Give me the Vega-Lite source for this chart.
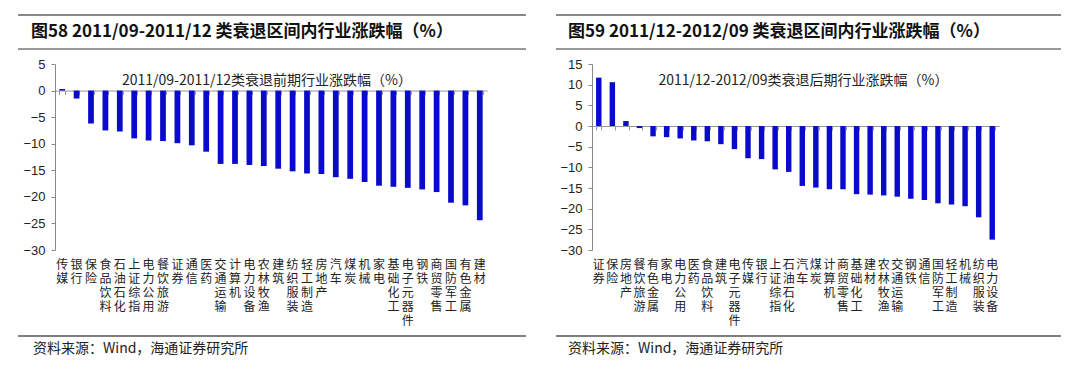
{
  "$schema": "https://vega.github.io/schema/vega-lite/v6.json",
  "background": "white",
  "padding": {"left": 17, "top": 14, "right": 0, "bottom": 0},
  "config": {"view": {"stroke": null}, "font": "Noto Sans CJK SC"},
  "datasets": {
    "left": [
      {"industry": "传媒", "change": 0.3},
      {"industry": "银行", "change": -1.5},
      {"industry": "保险", "change": -6.2},
      {"industry": "食品饮料", "change": -7.5},
      {"industry": "石油石化", "change": -7.7},
      {"industry": "上证综指", "change": -9.0},
      {"industry": "电力公用", "change": -9.4},
      {"industry": "餐饮旅游", "change": -9.5},
      {"industry": "证券", "change": -9.9},
      {"industry": "通信", "change": -10.3},
      {"industry": "医药", "change": -11.5},
      {"industry": "交通运输", "change": -13.8},
      {"industry": "计算机", "change": -13.8},
      {"industry": "电力设备", "change": -14.0},
      {"industry": "农林牧渔", "change": -14.2},
      {"industry": "建筑", "change": -14.7},
      {"industry": "纺织服装", "change": -15.2},
      {"industry": "轻工制造", "change": -15.6},
      {"industry": "房地产", "change": -15.7},
      {"industry": "汽车", "change": -16.3},
      {"industry": "煤炭", "change": -16.6},
      {"industry": "机械", "change": -17.2},
      {"industry": "家电", "change": -17.9},
      {"industry": "基础化工", "change": -18.1},
      {"industry": "电子元器件", "change": -18.3},
      {"industry": "钢铁", "change": -18.6},
      {"industry": "商贸零售", "change": -19.1},
      {"industry": "国防军工", "change": -21.1},
      {"industry": "有色金属", "change": -21.6},
      {"industry": "建材", "change": -24.4}
    ],
    "right": [
      {"industry": "证券", "change": 11.7},
      {"industry": "保险", "change": 10.6},
      {"industry": "房地产", "change": 1.2},
      {"industry": "餐饮旅游", "change": -0.5},
      {"industry": "有色金属", "change": -2.5},
      {"industry": "家电", "change": -2.7},
      {"industry": "电力公用", "change": -3.0},
      {"industry": "医药", "change": -3.5},
      {"industry": "食品饮料", "change": -3.7},
      {"industry": "建筑", "change": -4.4},
      {"industry": "电子元器件", "change": -5.6},
      {"industry": "传媒", "change": -7.8},
      {"industry": "银行", "change": -8.0},
      {"industry": "上证综指", "change": -10.5},
      {"industry": "石油石化", "change": -11.1},
      {"industry": "汽车", "change": -14.5},
      {"industry": "煤炭", "change": -14.9},
      {"industry": "计算机", "change": -15.3},
      {"industry": "商贸零售", "change": -15.3},
      {"industry": "基础化工", "change": -16.5},
      {"industry": "建材", "change": -16.6},
      {"industry": "农林牧渔", "change": -16.8},
      {"industry": "交通运输", "change": -17.1},
      {"industry": "钢铁", "change": -17.6},
      {"industry": "通信", "change": -17.9},
      {"industry": "国防军工", "change": -18.7},
      {"industry": "轻工制造", "change": -19.0},
      {"industry": "机械", "change": -19.4},
      {"industry": "纺织服装", "change": -22.1},
      {"industry": "电力设备", "change": -27.5}
    ]
  },
  "hconcat": [
    {
      "spacing": 8,
      "vconcat": [
        {
          "width": 508, "height": 34,
          "data": {"values": [{"title": "图58 2011/09-2011/12 类衰退区间内行业涨跌幅（%）"}]},
          "layer": [
            {"mark": {"type": "rule", "color": "#888888", "strokeWidth": 2}, "encoding": {"y": {"datum": 1, "type": "quantitative", "scale": {"domain": [0, 1]}, "axis": null}}},
            {"mark": {"type": "rule", "color": "#333333", "strokeWidth": 1.2}, "encoding": {"y": {"datum": 0, "type": "quantitative"}}},
            {"mark": {"type": "text", "align": "left", "baseline": "middle", "dx": 13, "fontSize": 17, "fontWeight": "bold", "font": "Noto Sans CJK SC", "color": "#111111"},
             "encoding": {"text": {"field": "title"}, "x": {"datum": 0, "type": "quantitative", "scale": {"domain": [0, 1]}, "axis": null}, "y": {"datum": 0.5, "type": "quantitative"}}}
          ]
        },
        {
          "width": 508, "height": 186,
          "data": {"name": "left"},
          "title": {"text": "2011/09-2011/12类衰退前期行业涨跌幅（%）", "frame": "group", "anchor": "middle", "orient": "top", "offset": -37, "baseline": "middle", "fontSize": 14, "fontWeight": "normal", "font": "Noto Sans CJK SC", "color": "#222222", "dx": -5},
          "encoding": {
            "y": {"field": "change", "type": "quantitative", "scale": {"domain": [-30, 5], "nice": false},
              "axis": {"values": [-30, -25, -20, -15, -10, -5, 0, 5], "labelOverlap": false, "offset": -37, "domainColor": "#888888", "tickColor": "#888888", "tickSize": 4, "labelFont": "Liberation Sans", "labelFontSize": 13, "labelColor": "#222222", "labelPadding": 6, "grid": false, "title": null}}
          },
          "layer": [
            {
              "mark": {"type": "bar", "color": "#0a0acc"},
              "encoding": {
                "x": {"field": "industry", "type": "nominal", "sort": null, "scale": {"range": [37, 469], "paddingInner": 0.6, "paddingOuter": 0.3},
                  "axis": {"orient": "bottom", "labelExpr": "split(datum.value, '')", "labelAngle": 0, "labelAlign": "center", "labelBaseline": "top", "labelLineHeight": 14, "labelFont": "Noto Sans CJK SC", "labelFontSize": 12, "labelColor": "#222222", "labelPadding": 9, "domain": false, "ticks": false, "title": null, "labelOverlap": false, "grid": false}}
              }
            },
            {
              "mark": {"type": "bar", "opacity": 0},
              "encoding": {
                "x": {"field": "industry", "type": "nominal", "sort": null,
                  "axis": {"orient": "bottom", "offset": -159.43, "labels": false, "domain": true, "domainColor": "#999999", "ticks": true, "tickColor": "#999999", "tickSize": 4, "tickBand": "extent", "title": null, "grid": false}}
              }
            }
          ],
          "resolve": {"axis": {"x": "independent"}}
        },
        {
          "width": 508, "height": 30,
          "data": {"values": [{"note": "资料来源：Wind，海通证券研究所"}]},
          "layer": [
            {"mark": {"type": "rule", "color": "#555555", "strokeWidth": 1.5}, "encoding": {"y": {"datum": 0.93, "type": "quantitative", "scale": {"domain": [0, 1]}, "axis": null}}},
            {"mark": {"type": "text", "align": "left", "baseline": "middle", "dx": 15, "fontSize": 14, "font": "Noto Sans CJK SC", "color": "#222222"},
             "encoding": {"text": {"field": "note"}, "x": {"datum": 0, "type": "quantitative", "scale": {"domain": [0, 1]}, "axis": null}, "y": {"datum": 0.5, "type": "quantitative"}}}
          ]
        }
      ]
    },
    {
      "spacing": 8,
      "vconcat": [
        {
          "width": 505, "height": 34,
          "data": {"values": [{"title": "图59 2011/12-2012/09 类衰退区间内行业涨跌幅（%）"}]},
          "layer": [
            {"mark": {"type": "rule", "color": "#888888", "strokeWidth": 2}, "encoding": {"y": {"datum": 1, "type": "quantitative", "scale": {"domain": [0, 1]}, "axis": null}}},
            {"mark": {"type": "rule", "color": "#333333", "strokeWidth": 1.2}, "encoding": {"y": {"datum": 0, "type": "quantitative"}}},
            {"mark": {"type": "text", "align": "left", "baseline": "middle", "dx": 12, "fontSize": 17, "fontWeight": "bold", "font": "Noto Sans CJK SC", "color": "#111111"},
             "encoding": {"text": {"field": "title"}, "x": {"datum": 0, "type": "quantitative", "scale": {"domain": [0, 1]}, "axis": null}, "y": {"datum": 0.5, "type": "quantitative"}}}
          ]
        },
        {
          "width": 505, "height": 186,
          "data": {"name": "right"},
          "title": {"text": "2011/12-2012/09类衰退后期行业涨跌幅（%）", "frame": "group", "anchor": "middle", "orient": "top", "offset": -37, "baseline": "middle", "fontSize": 14, "fontWeight": "normal", "font": "Noto Sans CJK SC", "color": "#222222", "dx": -5},
          "encoding": {
            "y": {"field": "change", "type": "quantitative", "scale": {"domain": [-30, 15], "nice": false},
              "axis": {"values": [-30, -25, -20, -15, -10, -5, 0, 5, 10, 15], "labelOverlap": false, "offset": -36, "domainColor": "#888888", "tickColor": "#888888", "tickSize": 4, "labelFont": "Liberation Sans", "labelFontSize": 13, "labelColor": "#222222", "labelPadding": 6, "grid": false, "title": null}}
          },
          "layer": [
            {
              "mark": {"type": "bar", "color": "#0a0acc"},
              "encoding": {
                "x": {"field": "industry", "type": "nominal", "sort": null, "scale": {"range": [36, 443], "paddingInner": 0.6, "paddingOuter": 0.3},
                  "axis": {"orient": "bottom", "labelExpr": "split(datum.value, '')", "labelAngle": 0, "labelAlign": "center", "labelBaseline": "top", "labelLineHeight": 14, "labelFont": "Noto Sans CJK SC", "labelFontSize": 12, "labelColor": "#222222", "labelPadding": 9, "domain": false, "ticks": false, "title": null, "labelOverlap": false, "grid": false}}
              }
            },
            {
              "mark": {"type": "bar", "opacity": 0},
              "encoding": {
                "x": {"field": "industry", "type": "nominal", "sort": null,
                  "axis": {"orient": "bottom", "offset": -124, "labels": false, "domain": true, "domainColor": "#999999", "ticks": true, "tickColor": "#999999", "tickSize": 4, "tickBand": "extent", "title": null, "grid": false}}
              }
            }
          ],
          "resolve": {"axis": {"x": "independent"}}
        },
        {
          "width": 505, "height": 30,
          "data": {"values": [{"note": "资料来源：Wind，海通证券研究所"}]},
          "layer": [
            {"mark": {"type": "rule", "color": "#555555", "strokeWidth": 1.5}, "encoding": {"y": {"datum": 0.93, "type": "quantitative", "scale": {"domain": [0, 1]}, "axis": null}}},
            {"mark": {"type": "text", "align": "left", "baseline": "middle", "dx": 12, "fontSize": 14, "font": "Noto Sans CJK SC", "color": "#222222"},
             "encoding": {"text": {"field": "note"}, "x": {"datum": 0, "type": "quantitative", "scale": {"domain": [0, 1]}, "axis": null}, "y": {"datum": 0.5, "type": "quantitative"}}}
          ]
        }
      ]
    }
  ],
  "spacing": 28
}
